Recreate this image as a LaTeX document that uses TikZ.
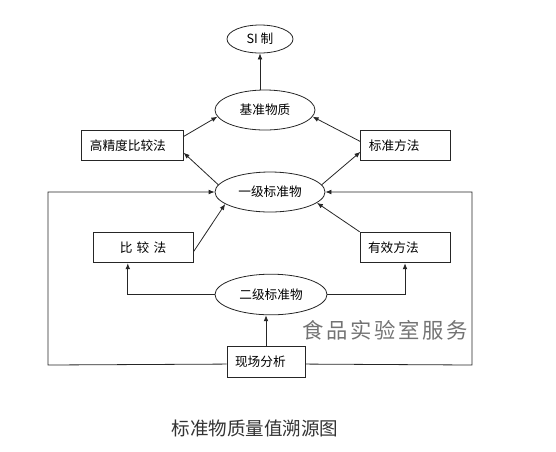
\documentclass[tikz,border=0pt]{standalone}
\usepackage{fontspec}
\setmainfont{Noto Sans CJK SC}
\newfontfamily\markfont[LetterSpace=12]{Noto Sans CJK SC}
\usetikzlibrary{arrows.meta}
\usetikzlibrary{shapes.geometric}
\usetikzlibrary{positioning}

\begin{document}
\begin{tikzpicture}[->, >={Latex[length=4.5pt,width=3.6pt]}, x=0.75pt, y=-0.75pt,
    line width=0.6pt, draw=black!85,
    oval/.style={ellipse, draw, inner sep=0pt, font=\fontsize{9.5}{11}\selectfont},
    box/.style={rectangle, draw, inner ysep=0pt, inner xsep=6pt, minimum height=23pt,
      text width=#1, align=left, font=\fontsize{9.5}{11}\selectfont}]

    \useasboundingbox (0,0) rectangle (556,451);

    % Nodes

    \node[oval, minimum width=49.5pt, minimum height=21pt] (si)  at (260,39)    {SI 制};
    \node[oval, minimum width=75pt, minimum height=30pt]   (jz)  at (265,110)   {基准物质};
    \node[box=64pt]                 (hpc) at (132.5,145.5) {高精度比较法};
    \node[box=55pt]                 (std) at (405.5,145.5) {标准方法};
    \node[oval, minimum width=82.5pt, minimum height=30pt] (yj)  at (270,192)   {一级标准物};

    \draw (jz.north -| si.south) -- (si.south);
    \draw (hpc.10) -- (jz.188);
    \draw (std.175) -- (jz.352);
    \draw (yj.172) -- (hpc.-8);
    \draw (yj.8) -- (std.188);

    % Lower nodes
    \node[box=63pt, align=center]   (bj)  at (143,247.5)   {比 较 法};
    \node[box=55.5pt]               (yx)  at (405,247.5)   {有效方法};
    \node[oval, minimum width=84pt, minimum height=30.5pt] (ej)  at (271,294.5) {二级标准物};
    \node[box=46.5pt]               (xc)  at (266,362)     {现场分析};

    \coordinate (loopL) at (48,365);
    \coordinate (loopR) at (472,365);

    \draw (bj.-5) -- (yj.195);
    \draw (yx.north west) -- (yj.-13);
    \draw (ej.west) -| (bj.-134);
    \draw (ej.east) -| (yx.south);
    \draw (xc.north) -- (xc.north |- ej.south);
    \draw (xc.183) -- (loopL) |- (yj.west);
    \draw (xc.-3) -- (loopR) |- (yj.east);

    % Texts
    \node[text=black!55, font=\markfont\fontsize{16}{17}\selectfont] (mark) at (385,330) {食品实验室服务};
    \node[text=black!80, font=\fontsize{13.9}{15}\selectfont] (title) at (255,428) {标准物质量值溯源图};

\end{tikzpicture}
\end{document}
